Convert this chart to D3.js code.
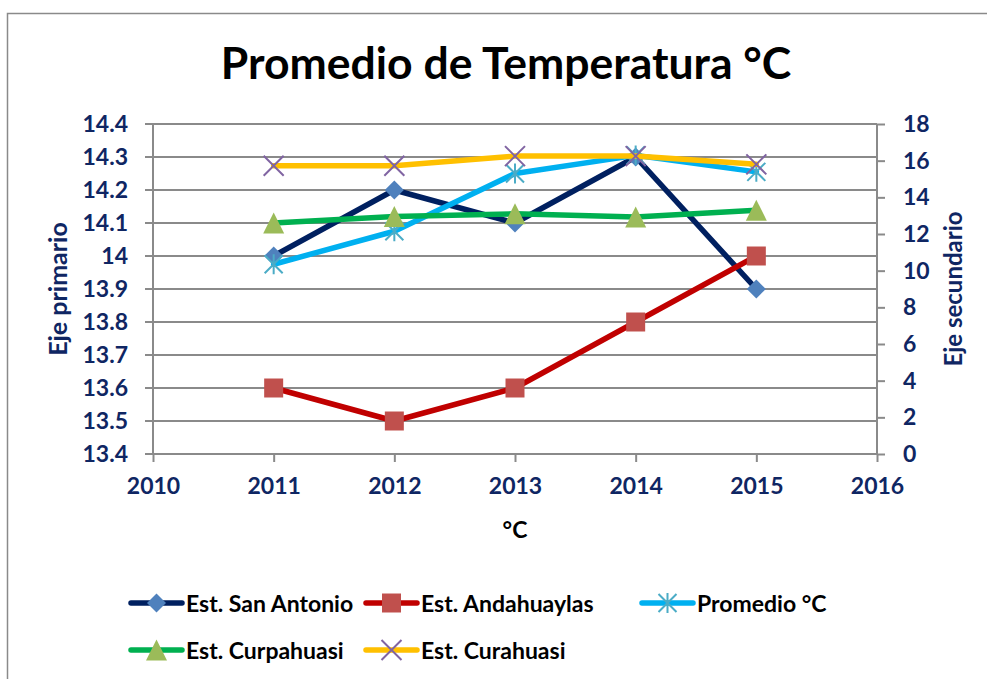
<!DOCTYPE html>
<html>
<head>
<meta charset="utf-8">
<script src="https://cdn.jsdelivr.net/npm/d3@7/dist/d3.min.js"></script>
<style>
  body { margin: 0; background: #fff; }
  text { font-family: Lato, "Open Sans", sans-serif; font-weight: bold; }
</style>
</head>
<body>
<div id="chart"></div>
<script>
const years = [2011, 2012, 2013, 2014, 2015];
const sanAntonio = [14.0, 14.2, 14.1, 14.3, 13.9];
const andahuaylas = [13.6, 13.5, 13.6, 13.8, 14.0];
const promedio = [13.975, 14.075, 14.25, 14.305, 14.255];
// these two are plotted against the secondary axis
const curpahuasi = [12.6, 12.95, 13.1, 12.93, 13.3];
const curahuasi = [15.72, 15.72, 16.25, 16.25, 15.8];

const xTicks = [2010, 2011, 2012, 2013, 2014, 2015, 2016];
const yTicks = [13.4, 13.5, 13.6, 13.7, 13.8, 13.9, 14.0, 14.1, 14.2, 14.3, 14.4];
const y2Ticks = [0, 2, 4, 6, 8, 10, 12, 14, 16, 18];

const width = 987, height = 679;
const navy = '#0f2663', grid = '#8a8a8a';

const svg = d3.select('#chart').append('svg')
  .attr('width', width)
  .attr('height', height);

// outer chart frame (runs off the right/bottom edge like the picture)
svg.append('rect')
  .attr('x', 7.5).attr('y', 13.5)
  .attr('width', width + 20).attr('height', height + 20)
  .attr('fill', 'none').attr('stroke', grid).attr('stroke-width', 1.5);

const x = d3.scaleLinear().domain([2010, 2016]).range([153, 877]);
const y = d3.scaleLinear().domain([13.4, 14.4]).range([454, 124]);
const y2 = d3.scaleLinear().domain([0, 18]).range([454, 124]);

// gridlines (primary ticks)
svg.append('g').selectAll('line').data(yTicks).join('line')
  .attr('x1', 145).attr('x2', x(2016))
  .attr('y1', d => y(d)).attr('y2', d => y(d))
  .attr('stroke', grid).attr('stroke-width', 2);

// left axis
const yaxis = d3.axisLeft(y).tickValues(yTicks).tickSize(0).tickPadding(25)
  .tickFormat(d => d3.format('.1~f')(d));
const gy = svg.append('g').attr('transform', `translate(${x(2010)},0)`).call(yaxis);

// right axis
const y2axis = d3.axisRight(y2).tickValues(y2Ticks).tickSize(8).tickPadding(18);
const gy2 = svg.append('g').attr('transform', `translate(${x(2016)},0)`).call(y2axis);

// bottom axis
const xaxis = d3.axisBottom(x).tickValues(xTicks).tickSize(8).tickPadding(16)
  .tickFormat(d3.format('d'));
const gx = svg.append('g').attr('transform', `translate(0,${y(13.4)})`).call(xaxis);

[gy, gy2, gx].forEach(g => {
  g.select('.domain').attr('stroke', grid).attr('stroke-width', 2);
  g.selectAll('.tick line').attr('stroke', grid).attr('stroke-width', 2);
  g.selectAll('.tick text').attr('fill', navy).style('font-size', '23px');
});
gy.select('.domain').attr('d', `M0,${y(14.4)}V${y(13.4)}`);
gy2.select('.domain').attr('d', `M0,${y2(18)}V${y2(0)}`);
gx.select('.domain').attr('d', `M145,0H${x(2016)}`);

// titles
svg.append('text').attr('x', 506).attr('y', 79).attr('text-anchor', 'middle')
  .style('font-size', '44.5px').attr('fill', '#000').text('Promedio de Temperatura °C');
svg.append('text').attr('transform', 'translate(67,289) rotate(-90)').attr('text-anchor', 'middle')
  .style('font-size', '25px').attr('fill', navy).text('Eje primario');
svg.append('text').attr('transform', 'translate(962,289) rotate(-90)').attr('text-anchor', 'middle')
  .style('font-size', '24px').attr('fill', navy).text('Eje secundario');
svg.append('text').attr('x', 515).attr('y', 538).attr('text-anchor', 'middle')
  .style('font-size', '23px').attr('fill', '#000').text('°C');

// excel-like marker shapes
const diamond = { draw(ctx, s) { const r = Math.sqrt(s) / 2; ctx.moveTo(0, -r); ctx.lineTo(r, 0); ctx.lineTo(0, r); ctx.lineTo(-r, 0); ctx.closePath(); } };
const square = { draw(ctx, s) { const r = Math.sqrt(s) / 2; ctx.rect(-r, -r, 2 * r, 2 * r); } };
const triangle = { draw(ctx, s) { const r = Math.sqrt(s) / 2; ctx.moveTo(0, -r); ctx.lineTo(r, r); ctx.lineTo(-r, r); ctx.closePath(); } };
const cross = { draw(ctx, s) { const r = Math.sqrt(s) / 2; ctx.moveTo(-r, -r); ctx.lineTo(r, r); ctx.moveTo(r, -r); ctx.lineTo(-r, r); } };
const star = { draw(ctx, s) { const r = Math.sqrt(s) / 2; ctx.moveTo(-r, -r); ctx.lineTo(r, r); ctx.moveTo(r, -r); ctx.lineTo(-r, r); ctx.moveTo(0, -r * 1.1); ctx.lineTo(0, r * 1.1); } };

const series = [
  { name: 'Est. San Antonio', values: sanAntonio, scale: y, line: '#002060', marker: '#4f81bd', shape: diamond, size: 361, filled: true },
  { name: 'Est. Andahuaylas', values: andahuaylas, scale: y, line: '#c00000', marker: '#c0504d', shape: square, size: 361, filled: true },
  { name: 'Promedio °C', values: promedio, scale: y, line: '#00b0f0', marker: '#4bacc6', shape: star, size: 324, filled: false },
  { name: 'Est. Curpahuasi', values: curpahuasi, scale: y2, line: '#00b050', marker: '#9bbb59', shape: triangle, size: 441, filled: true },
  { name: 'Est. Curahuasi', values: curahuasi, scale: y2, line: '#ffc000', marker: '#8064a2', shape: cross, size: 400, filled: false }
];

function drawMarker(g, s) {
  return g.append('path')
    .attr('d', d3.symbol().type(s.shape).size(s.size)())
    .attr('fill', s.filled ? s.marker : 'none')
    .attr('stroke', s.filled ? 'none' : s.marker)
    .attr('stroke-width', 2);
}

series.forEach(s => {
  const pts = years.map((yr, i) => [x(yr), s.scale(s.values[i])]);
  svg.append('path')
    .attr('d', d3.line()(pts))
    .attr('fill', 'none').attr('stroke', s.line)
    .attr('stroke-width', 5.5).attr('stroke-linejoin', 'round').attr('stroke-linecap', 'round');
  pts.forEach(p => drawMarker(svg.append('g').attr('transform', `translate(${p[0]},${p[1]})`), s));
});

// legend
const legendPos = [[131, 603], [366, 603], [642, 603], [131, 650], [366, 650]];
series.forEach((s, i) => {
  const [lx, ly] = legendPos[i];
  const g = svg.append('g').attr('transform', `translate(${lx},${ly})`);
  g.append('line').attr('x1', 0).attr('x2', 51)
    .attr('stroke', s.line).attr('stroke-width', 5.5).attr('stroke-linecap', 'round');
  drawMarker(g.append('g').attr('transform', 'translate(25.5,0)'), s);
  g.append('text').attr('x', 55).attr('y', 8.5)
    .style('font-size', '23px').attr('fill', '#000').text(s.name);
});
</script>
</body>
</html>
